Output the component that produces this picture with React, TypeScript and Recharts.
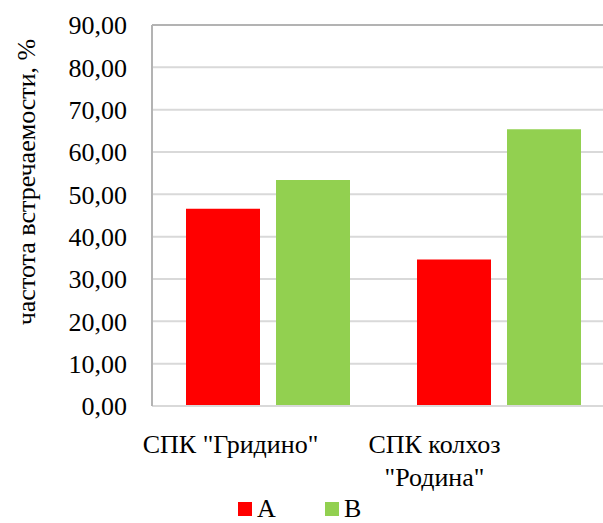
import React from 'react';
import { BarChart, Bar, XAxis, YAxis, CartesianGrid, Legend, ReferenceLine } from 'recharts';

const categories = ['СПК "Гридино"', 'СПК колхоз\n"Родина"'];
const seriesA = [46.6, 34.6];
const seriesB = [53.4, 65.4];
const yTicks = [0, 10, 20, 30, 40, 50, 60, 70, 80, 90];
const yLabel = 'частота встречаемости, %';
const legendNames = ['A', 'B'];

const data = categories.map((c, i) => ({ name: c, A: seriesA[i], B: seriesB[i] }));

const FONT = '"Liberation Serif", "Times New Roman", Tinos, "DejaVu Serif", serif';
const RED = '#ff0000';
const GREEN = '#92d050';

const labelOffsets = [-37, -64];

const CatTick = (props: any) => {
  const { x, y, payload, index } = props;
  const lines = String(payload.value).split('\n');
  const off = labelOffsets[index] ?? 0;
  return (
    <g>
      {lines.map((l, i) => (
        <text
          key={i}
          x={x + off}
          y={y + 39 + i * 33}
          textAnchor="middle"
          style={{ fontFamily: FONT }}
          fontSize={26}
          fill="#000"
        >
          {l}
        </text>
      ))}
    </g>
  );
};

const renderLegend = () => (
  <div style={{ height: 0, overflow: 'visible' }}>
    <div style={{ display: 'flex', paddingLeft: 238, fontFamily: FONT, fontSize: 26, lineHeight: '26px', color: '#000' }}>
      {legendNames.map((n, i) => (
        <div key={n} style={{ width: 87, display: 'flex', alignItems: 'flex-start' }}>
          <span style={{ width: 14, height: 14, background: i === 0 ? RED : GREEN, marginTop: 6, marginRight: 5, display: 'inline-block' }} />
          <span>{n}</span>
        </div>
      ))}
    </div>
  </div>
);

export default function App() {
  return (
    <div style={{ position: 'absolute', left: 0, top: 0, width: 603, height: 523, overflow: 'hidden', background: '#fff' }}>
      <BarChart
        width={620}
        height={523}
        data={data}
        margin={{ top: 25, right: 6, left: 0, bottom: 37 }}
        barSize={74}
        barGap={16}
      >
        <CartesianGrid horizontal vertical={false} stroke="#d9d9d9" strokeWidth={2} />
        <XAxis
          dataKey="name"
          height={80}
          tickLine={false}
          axisLine={{ stroke: '#d9d9d9', strokeWidth: 2 }}
          tick={<CatTick />}
          interval={0}
        />
        <YAxis
          width={152}
          domain={[0, 90]}
          ticks={yTicks}
          interval={0}
          tickLine={false}
          tickMargin={19}
          axisLine={{ stroke: '#b3b3b3', strokeWidth: 2 }}
          tickFormatter={(v: number) => v.toFixed(2).replace('.', ',')}
          tick={{ style: { fontFamily: FONT }, fontSize: 26, fill: '#000' }}
          label={{
            value: yLabel,
            content: () => (
              <text
                x={35}
                y={182}
                transform="rotate(-90 35 182)"
                textAnchor="middle"
                style={{ fontFamily: FONT }}
                fontSize={26}
                fill="#000"
              >
                {yLabel}
              </text>
            ),
          }}
        />
        <ReferenceLine y={90} stroke="#b3b3b3" strokeWidth={2} />
        <Legend
          verticalAlign="bottom"
          content={renderLegend}
          wrapperStyle={{ left: 0, top: 496, width: 620 }}
        />
        <Bar dataKey="A" name={legendNames[0]} fill={RED} isAnimationActive={false} />
        <Bar dataKey="B" name={legendNames[1]} fill={GREEN} isAnimationActive={false} />
      </BarChart>
    </div>
  );
}
